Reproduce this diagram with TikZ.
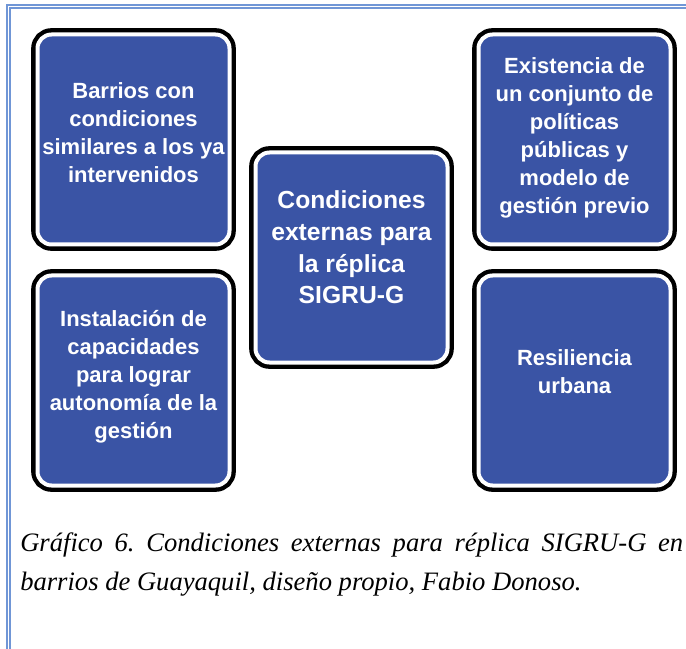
\documentclass[tikz,border=0pt]{standalone}
\usepackage{fontspec}
\newfontfamily\boxfont{Liberation Sans}
\newfontfamily\capfont{Liberation Serif}
\definecolor{boxblue}{RGB}{58,84,165}
\definecolor{frameblue}{RGB}{112,150,214}
\frenchspacing

\begin{document}
\begin{tikzpicture}[
            x = .75pt, y = -.75pt,
            box/.style={rectangle, rounded corners=10.5pt, minimum width=144pt, minimum height=157.5pt,
                fill=boxblue, draw=white, line width=3pt, preaction={draw=black, line width=9.5pt}},
            boxtext/.style={text=white, align=center, inner sep=0pt, font=\boxfont\bfseries\fontsize{16.5}{21}\selectfont},
            maintext/.style={boxtext, font=\boxfont\bfseries\fontsize{18.5}{23.7}\selectfont},
            caption/.style={anchor=base west, inner sep=0pt, font=\capfont\itshape\fontsize{19.95}{24}\selectfont},
            frame/.style={draw=frameblue, double, double distance=1.35pt, line width=.9pt},
            ]
        \useasboundingbox (0,0) rectangle (686,649);

        \draw[frame] (8.5,649) -- (8.5,6.5) -- (686,6.5);

        \node[box] (barrios) at (133.5,139.5) {};
        \node[box] (instalacion) at (133.5,380.5) {};
        \node[box] (condiciones) at (351.5,257.5) {};
        \node[box] (existencia) at (574.5,139.5) {};
        \node[box] (resiliencia) at (574.5,380.5) {};

        \node[boxtext] (barrios text) at ([yshift=5.25pt]barrios.center) {Barrios con\\condiciones\\similares a los ya\\intervenidos};
        \node[boxtext] (instalacion text) at ([yshift=3pt]instalacion.center) {Instalación de\\capacidades\\para lograr\\autonomía de la\\gestión};
        \node[maintext] (condiciones text) at ([yshift=7.5pt]condiciones.center) {Condiciones\\externas para\\la réplica\\SIGRU-G};
        \node[boxtext] (existencia text) at ([yshift=1.5pt]existencia.center) {Existencia de\\un conjunto de\\políticas\\públicas y\\modelo de\\gestión previo};
        \node[boxtext] (resiliencia text) at ([yshift=6.75pt]resiliencia.center) {Resiliencia\\urbana};

        \node[caption] (cap1) at (20,551) {\makebox[497.25pt][s]{Gráfico 6. Condiciones externas para réplica SIGRU-G en}};
        \node[caption] (cap2) at (20,590) {barrios de Guayaquil, diseño propio, Fabio Donoso.};
    \end{tikzpicture}
\end{document}
